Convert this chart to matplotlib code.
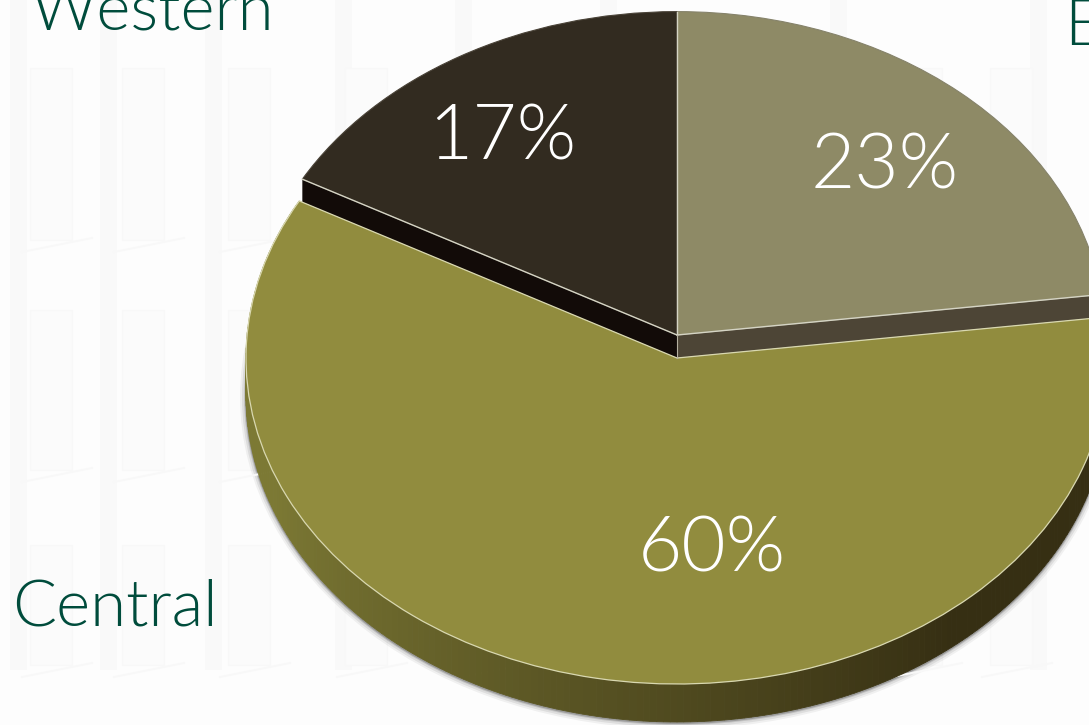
import numpy as np
import matplotlib
matplotlib.use('Agg')
import matplotlib.pyplot as plt
from matplotlib.patches import Polygon, Ellipse, Rectangle

regions = ['Eastern', 'Central', 'Western']
shares = [23, 60, 17]
top_colors = ['#8e8a66', '#918c3e', '#322b20']
wall_colors = ['#4d4536', '#000000', '#120b08']
rim_left = np.array([0x7c, 0x79, 0x34]) / 255
rim_right = np.array([0x36, 0x2f, 0x13]) / 255

# pie geometry in pixels
W, H = 1089, 725
cx, cy = 677, 335
rx, ry = 431, 326
lift = 23 / ry
rim = 38 / ry
raised = 0.992

# faint building behind the pie
column_x = [10, 100, 205, 335, 455, 600, 830, 1030]
window_x = [30, 122, 228, 345, 470, 900, 990]
window_y = [(68, 240), (310, 470), (545, 665)]

fig = plt.figure(figsize=(W / 100, H / 100), dpi=100, facecolor='#fdfdfd')

bg = fig.add_axes([0, 0, 1, 1], zorder=0)
bg.set_xlim(0, W)
bg.set_ylim(H, 0)
bg.axis('off')
for x in column_x:
    bg.add_patch(Rectangle((x, 0), 17, 670, color='#f9f9f9', lw=0))
for x in window_x:
    for y0, y1 in window_y:
        bg.add_patch(Rectangle((x, y0), 42, y1 - y0, fc='#fbfbfb', ec='#f8f8f8', lw=1))
        bg.plot([x - 8, x + 62], [y1 + 12, y1 - 2], color='#f8f8f8', lw=1.5)

# soft shadow under the rim
for grow, alpha in zip([6, 4, 2, 1], [0.05, 0.08, 0.12, 0.2]):
    bg.add_patch(Ellipse((cx, cy + 23 + 38 + 1), 2 * (rx + grow), 2 * (ry + grow),
                         color='black', alpha=alpha, lw=0))

ax = fig.add_axes([0, 0, 1, 1], zorder=1)
ax.patch.set_alpha(0)

wedges, _ = ax.pie(shares, colors=top_colors, startangle=90, counterclock=False,
                   radius=1, frame=False, wedgeprops={'linewidth': 0})
ax.set_aspect('auto')
ax.set_xlim(-cx / rx, (W - cx) / rx)
ax.set_ylim((cy - H) / ry, cy / ry)
ax.axis('off')

# slice boundaries, measured clockwise from twelve o'clock
edges = 360 * np.cumsum([0] + shares) / sum(shares)
east_end, central_end = np.radians(edges[1]), np.radians(edges[2])


def rim_point(t, y0, r=1.0):
    return r * np.sin(t), r * np.cos(t) + y0


# outer rim of the central slice, shaded from left to right
steps = np.linspace(east_end, central_end, 241)
for a, b in zip(steps[:-1], steps[1:]):
    mix = np.clip((a - np.pi * 0.78) / (np.pi * 0.6), 0, 1)
    shade = rim_left * mix + rim_right * (1 - mix)
    pts = [rim_point(a, -lift), rim_point(b, -lift), rim_point(b, -lift - rim), rim_point(a, -lift - rim)]
    ax.add_patch(Polygon(pts, fc=shade, ec=shade, lw=0.6, zorder=1))

# cut faces of the two raised slices
for t, color in [(east_end, wall_colors[0]), (central_end, wall_colors[2])]:
    pts = [(0, 0), rim_point(t, 0, raised), rim_point(t, -lift, raised), (0, -lift)]
    ax.add_patch(Polygon(pts, fc=color, lw=0, zorder=2))

wedges[0].set_zorder(3)
wedges[2].set_zorder(3)
wedges[0].set_radius(raised)
wedges[2].set_radius(raised)
wedges[1].set_center((0, -lift))
wedges[1].set_zorder(2.5)
wedges[1].set_edgecolor('#d9d8b0')
wedges[1].set_linewidth(0.9)
wedges[0].set_edgecolor('#85826a')
wedges[0].set_linewidth(0.8)
wedges[2].set_edgecolor('#4a4338')
wedges[2].set_linewidth(0.8)

# light lines along the top of the cut faces
for t in (0, east_end, central_end):
    x1, y1 = rim_point(t, 0, raised)
    ax.plot([0, x1], [0, y1], color='#d5d4c4', lw=1, zorder=4)
ax.plot([0, 0], [0, -lift], color='#b5b0a0', lw=0.8, zorder=4)

# text sits in pixel coordinates on top of everything
top = fig.add_axes([0, 0, 1, 1], zorder=2)
top.patch.set_alpha(0)
top.set_xlim(0, W)
top.set_ylim(H, 0)
top.axis('off')

font = ['Lato', 'Open Sans', 'DejaVu Sans']
pct_pos = [(885, 188), (712, 572), (502, 159)]
for value, (x, y) in zip(shares, pct_pos):
    top.text(x, y, f'{value}%', color='white', fontsize=55, family=font,
             fontweight=300, ha='center', va='baseline')

name_pos = [(1064, 44), (12, 626), (30, 29)]
for name, (x, y) in zip(regions, name_pos):
    top.text(x, y, name, color='#004c3c', fontsize=47, family=font,
             fontweight=300, ha='left', va='baseline')

fig.savefig('out.png', dpi=100, facecolor=fig.get_facecolor())
